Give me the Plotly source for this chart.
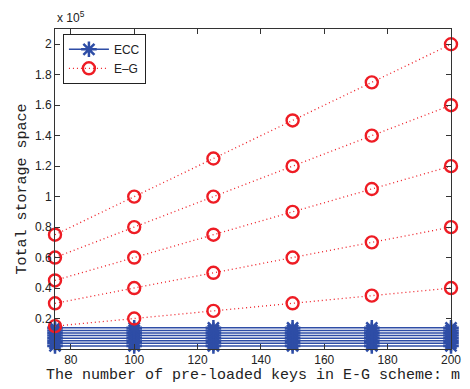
import plotly.graph_objects as go

m = [75, 100, 125, 150, 175, 200]
eg1 = [15000, 20000, 25000, 30000, 35000, 40000]
eg2 = [30000, 40000, 50000, 60000, 70000, 80000]
eg3 = [45000, 60000, 75000, 90000, 105000, 120000]
eg4 = [60000, 80000, 100000, 120000, 140000, 160000]
eg5 = [75000, 100000, 125000, 150000, 175000, 200000]
ecc_levels = [2000, 3700, 5400, 7100, 8800, 10500, 12200, 13900]
ytick_vals = [20000, 40000, 60000, 80000, 100000, 120000, 140000, 160000, 180000, 200000]
ytick_text = ["0.2", "0.4", "0.6", "0.8", "1", "1.2", "1.4", "1.6", "1.8", "2"]
xtick_vals = [80, 100, 120, 140, 160, 180, 200]

BLUE = "#2e4da6"
RED = "#ee1c24"

fig = go.Figure()
for i, lv in enumerate(ecc_levels):
    fig.add_trace(go.Scatter(
        x=m, y=[lv] * len(m), mode="lines+markers", name="ECC",
        showlegend=(i == 0), legendrank=1, cliponaxis=False,
        line=dict(color=BLUE, width=1.5),
        marker=dict(symbol="asterisk-open", size=13, line=dict(color=BLUE, width=2.5), color=BLUE),
    ))
for i, s in enumerate([eg1, eg2, eg3, eg4, eg5]):
    fig.add_trace(go.Scatter(
        x=m, y=s, mode="lines+markers", name="E\u2013G",
        showlegend=(i == 0), legendrank=2, cliponaxis=False,
        line=dict(color=RED, width=1.3, dash="1px,3px"),
        marker=dict(symbol="circle-open", size=12, line=dict(color=RED, width=2.4), color=RED),
    ))

axis_common = dict(
    showgrid=False, zeroline=False, showline=True, linecolor="#333333", linewidth=1,
    mirror="ticks", ticks="inside", ticklen=5, tickcolor="#333333",
    ticklabeloverflow="allow",
    tickfont=dict(family="Liberation Sans, Arial", size=12, color="#222222"),
)
fig.update_xaxes(range=[75, 200], tickvals=xtick_vals, **axis_common,
                 title=dict(text="The number of pre-loaded keys in E-G scheme: m",
                            font=dict(family="Liberation Mono, Courier New", size=15, color="#222222"),
                            standoff=2))
fig.update_yaxes(range=[0, 210000], tickvals=ytick_vals, ticktext=ytick_text, **axis_common,
                 title=dict(text="Total storage space",
                            font=dict(family="Liberation Mono, Courier New", size=15, color="#222222"),
                            standoff=4))
fig.add_annotation(x=0, y=1, xref="paper", yref="paper", xanchor="left", yanchor="bottom",
                   text="x 10<sup>5</sup>", showarrow=False, yshift=2,
                   font=dict(family="Liberation Sans, Arial", size=12, color="#222222"))
fig.update_layout(
    width=470, height=389, margin=dict(l=55, r=9, t=29, b=39),
    paper_bgcolor="white", plot_bgcolor="white",
    legend=dict(x=0.02, y=0.985, xanchor="left", yanchor="top", bgcolor="white",
                bordercolor="#222222", borderwidth=1,
                font=dict(family="Liberation Sans, Arial", size=12, color="#222222"),
                tracegroupgap=0, itemwidth=40),
)
fig.write_html("out.html", config={"displayModeBar": False},
               post_script="document.body.style.margin='0';document.body.style.overflow='hidden';")
